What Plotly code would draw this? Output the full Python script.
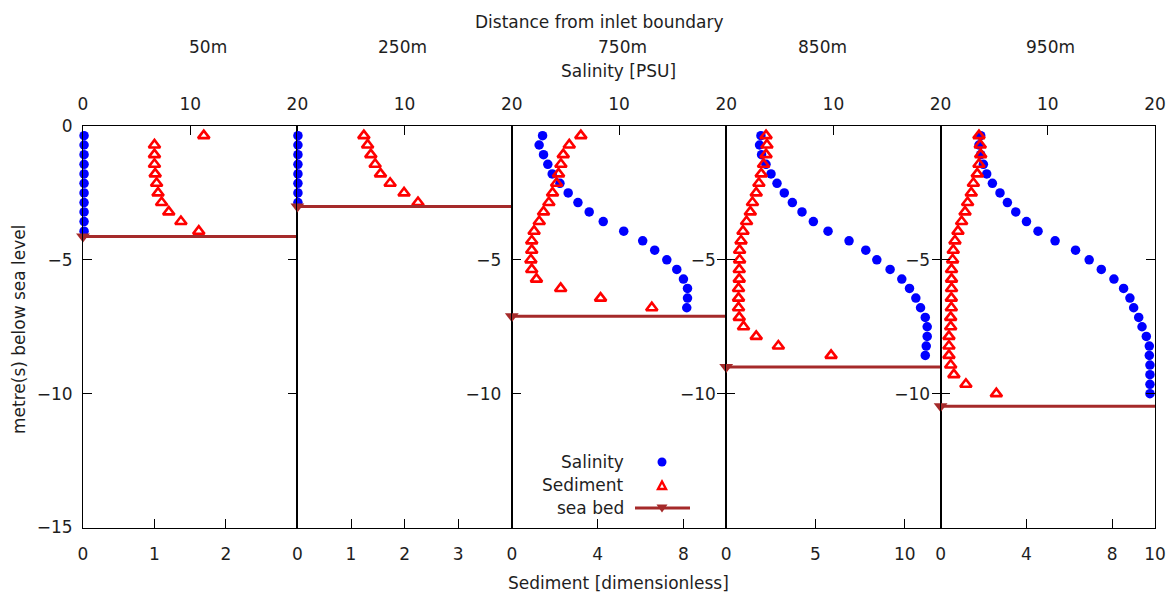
import plotly.graph_objects as go

# ---------------- data ----------------
panel_titles = ["50m", "250m", "750m", "850m", "950m"]

depth_levels = [-0.36, -0.71, -1.07, -1.43, -1.79, -2.14, -2.50, -2.86, -3.21, -3.57,
                -3.93, -4.29, -4.64, -5.00, -5.36, -5.72, -6.07, -6.43, -6.79, -7.15,
                -7.50, -7.86, -8.22, -8.57, -8.93, -9.29, -9.65, -10.00]

salinity_50 = [0.1, 0.1, 0.1, 0.1, 0.1, 0.1, 0.1, 0.1, 0.1, 0.1, 0.1]
sediment_50 = [1.69, 1.00, 1.00, 1.00, 1.01, 1.03, 1.05, 1.10, 1.20, 1.37, 1.62]

salinity_250 = [0.05, 0.05, 0.05, 0.05, 0.05, 0.05, 0.05, 0.05]
sediment_250 = [1.24, 1.31, 1.37, 1.45, 1.55, 1.73, 1.99, 2.25]

salinity_750 = [2.87, 2.55, 2.96, 3.36, 3.77, 4.49, 5.26, 6.17, 7.22, 8.53,
                10.44, 12.21, 13.33, 14.46, 15.39, 16.01, 16.39, 16.39, 16.32]
sediment_750 = [3.22, 2.68, 2.40, 2.29, 2.18, 2.09, 1.90, 1.73, 1.48, 1.28,
                1.04, 0.93, 0.93, 0.89, 0.93, 1.15, 2.28, 4.14, 6.53]

salinity_850 = [3.24, 3.11, 3.30, 3.71, 4.18, 4.74, 5.42, 6.17, 7.07, 8.13,
                9.50, 11.46, 13.02, 14.05, 15.29, 16.38, 17.10, 17.69, 18.13, 18.57,
                18.75, 18.75, 18.66, 18.57]
sediment_850 = [2.23, 2.28, 2.23, 2.09, 1.96, 1.83, 1.68, 1.47, 1.35, 1.14,
                0.94, 0.83, 0.75, 0.75, 0.73, 0.73, 0.69, 0.69, 0.69, 0.73,
                0.97, 1.68, 2.92, 5.87]

salinity_950 = [3.74, 3.58, 3.74, 3.99, 4.30, 4.83, 5.54, 6.23, 7.01, 8.01,
                9.09, 10.68, 12.59, 13.86, 14.99, 16.17, 17.07, 17.66, 18.01, 18.48,
                18.79, 19.19, 19.47, 19.47, 19.53, 19.53, 19.53, 19.53]
sediment_950 = [1.79, 1.85, 1.87, 1.79, 1.71, 1.53, 1.43, 1.26, 1.14, 0.98,
                0.81, 0.67, 0.59, 0.56, 0.51, 0.51, 0.51, 0.50, 0.50, 0.47,
                0.47, 0.39, 0.39, 0.39, 0.47, 0.62, 1.18, 2.60]

seabed_depth = [-4.13, -3.01, -7.11, -9.00, -10.47]
sediment_max = [3, 4, 10, 12, 10]
sediment_ticks = [[0, 1, 2], [0, 1, 2, 3], [0, 4, 8], [0, 5, 10], [0, 4, 8, 10]]
salinity_ticks = [[0, 10, 20], [10, 20], [10, 20], [10, 20], [10, 20]]
depth_ticks = [[0, -5, -10, -15], [], [-5, -10], [-5, -10], [-5, -10]]

salinity_all = [salinity_50, salinity_250, salinity_750, salinity_850, salinity_950]
sediment_all = [sediment_50, sediment_250, sediment_750, sediment_850, sediment_950]

# ---------------- layout geometry ----------------
W, H = 1174, 597
FONT = "DejaVu Sans"
FS = 17
TXT = "#1e1e1e"
edges = [83, 297.4, 511.8, 726.2, 940.6, 1155]
ydom = [(H - 527.5) / H, (H - 126) / H]
SEABED_COLOR = "#a52a2a"


def px(x):
    return x / W


def py(y):
    return 1 - y / H


fig = go.Figure()
layout = dict(
    width=W, height=H,
    margin=dict(l=0, r=0, t=0, b=0),
    paper_bgcolor="white", plot_bgcolor="white",
    showlegend=False,
    font=dict(family=FONT, size=FS, color=TXT),
)

for i in range(5):
    n = i + 1
    sfx = "" if n == 1 else str(n)
    sal_ref = "x" + sfx
    sed_ref = "x" + str(n + 5)
    y_ref = "y" + sfx
    dom = [edges[i] / W, edges[i + 1] / W]
    depths = depth_levels[:len(salinity_all[i])]

    fig.add_trace(go.Scatter(
        x=salinity_all[i], y=depths, xaxis=sal_ref, yaxis=y_ref,
        mode="markers", cliponaxis=False, name="Salinity",
        marker=dict(symbol="circle", size=9.5, color="#0000ff", line=dict(width=0)),
    ))
    fig.add_trace(go.Scatter(
        x=sediment_all[i], y=depths, xaxis=sed_ref, yaxis=y_ref,
        mode="markers", cliponaxis=False, name="Sediment",
        marker=dict(symbol="triangle-up-open", size=10, color="#ff0000",
                    line=dict(width=2.6, color="#ff0000")),
    ))
    fig.add_trace(go.Scatter(
        x=[0, sediment_max[i]], y=[seabed_depth[i], seabed_depth[i]],
        xaxis=sed_ref, yaxis=y_ref, mode="lines", cliponaxis=False,
        name="sea bed", line=dict(color=SEABED_COLOR, width=3),
    ))
    fig.add_trace(go.Scatter(
        x=[0], y=[seabed_depth[i]],
        xaxis=sed_ref, yaxis=y_ref, mode="markers", cliponaxis=False,
        name="sea bed", marker=dict(symbol="triangle-down", size=12,
                                    color=SEABED_COLOR, line=dict(width=0)),
    ))

    common = dict(showgrid=False, zeroline=False, automargin=False,
                  linecolor="black", linewidth=1, tickcolor="black",
                  tickwidth=1, ticklen=9, ticks="inside",
                  tickfont=dict(family=FONT, size=FS, color=TXT))
    layout["xaxis" + sfx] = dict(
        domain=dom, range=[0, 20], side="top", anchor=y_ref,
        tickvals=salinity_ticks[i], showline=True, ticklabelstandoff=8, **common)
    layout["xaxis" + str(n + 5)] = dict(
        domain=dom, range=[0, sediment_max[i]], side="bottom", anchor=y_ref,
        overlaying=sal_ref, tickvals=sediment_ticks[i], showline=True,
        ticklabelstandoff=11, **common)
    ycommon = dict(common)
    if depth_ticks[i]:
        layout["yaxis" + sfx] = dict(
            domain=ydom, range=[-15, 0], anchor=sal_ref,
            tickvals=depth_ticks[i], showline=True, mirror="ticks",
            ticklabelstandoff=6, **ycommon)
    else:
        ycommon["ticks"] = ""
        layout["yaxis" + sfx] = dict(
            domain=ydom, range=[-15, 0], anchor=sal_ref,
            tickvals=[], showticklabels=False, showline=True, mirror=True,
            **ycommon)

# ---------------- titles ----------------
annotations = [
    dict(text="Distance from inlet boundary", x=px(599), y=py(22)),
    dict(text="Salinity [PSU]", x=px(618), y=py(71)),
    dict(text="Sediment [dimensionless]", x=px(618), y=py(583)),
    dict(text="metre(s) below sea level", x=px(19), y=py(329), textangle=-90),
]
title_x = [208, 402, 622, 822, 1050]
for t, xx in zip(panel_titles, title_x):
    annotations.append(dict(text=t, x=px(xx), y=py(47)))
for a in annotations:
    a.update(xref="paper", yref="paper", showarrow=False, xanchor="center",
             yanchor="middle", font=dict(family=FONT, size=FS, color=TXT))

# ---------------- legend (manual, right-aligned text) ----------------
leg_rows = [("Salinity", 462), ("Sediment", 485), ("sea bed", 508)]
for txt, yy in leg_rows:
    annotations.append(dict(text=txt, x=px(626), y=py(yy), xref="paper", yref="paper",
                            showarrow=False, xanchor="right", yanchor="middle",
                            font=dict(family=FONT, size=FS, color=TXT)))
layout["annotations"] = annotations

shapes = [
    dict(type="circle", xref="paper", yref="paper",
         x0=px(657.5), x1=px(666.5), y0=py(466.5), y1=py(457.5),
         fillcolor="#0000ff", line=dict(width=0)),
    dict(type="path", xref="paper", yref="paper",
         path=f"M {px(658)},{py(489)} L {px(666)},{py(489)} L {px(662)},{py(481.5)} Z",
         line=dict(color="#ff0000", width=2.4), fillcolor="rgba(0,0,0,0)"),
    dict(type="line", xref="paper", yref="paper",
         x0=px(635), x1=px(690), y0=py(508), y1=py(508),
         line=dict(color=SEABED_COLOR, width=3)),
    dict(type="path", xref="paper", yref="paper",
         path=f"M {px(656.5)},{py(504.5)} L {px(667.5)},{py(504.5)} L {px(662)},{py(512.5)} Z",
         line=dict(color=SEABED_COLOR, width=0), fillcolor=SEABED_COLOR),
]
layout["shapes"] = shapes

fig.update_layout(**layout)
fig.write_html("out.html")
